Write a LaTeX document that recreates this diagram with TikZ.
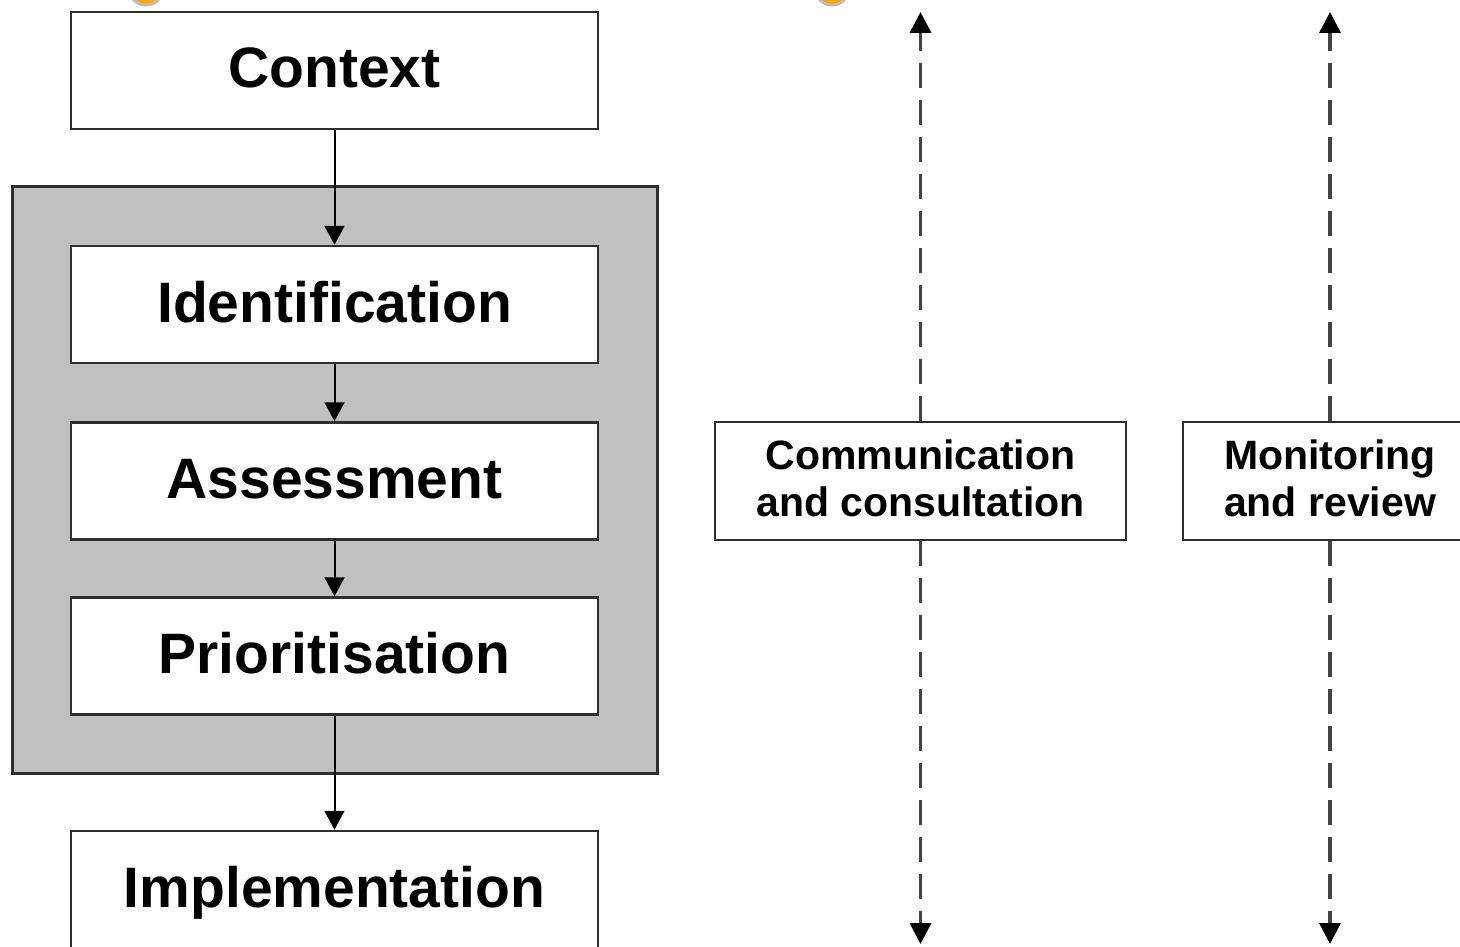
\documentclass[tikz,border=0pt]{standalone}
\usepackage{fontspec}
\setmainfont{Liberation Sans}
\usetikzlibrary{arrows.meta}
\definecolor{panelgray}{HTML}{C0C0C0}
\definecolor{edgegray}{HTML}{2E2E2E}
\definecolor{dashgray}{HTML}{444444}
\definecolor{iconorange}{HTML}{F7A823}
\definecolor{icongray}{HTML}{BDBDBD}
\tikzset{
  stepbox/.style={draw=edgegray, line width=2.5pt, fill=white, minimum width=527pt,
    minimum height=117pt, inner sep=0pt, text height=41pt, text depth=6pt,
    font=\fontsize{57}{60}\selectfont\bfseries},
  sidebox/.style={draw=edgegray, line width=2.5pt, fill=white,
    minimum height=118pt, inner sep=0pt, align=center, text depth=6pt,
    font=\fontsize{41}{47}\selectfont\bfseries},
  flow/.style={line width=2pt, black, -{Triangle[width=20pt,length=19pt]}},
  dashflow/.style={line width=3.5pt, dashgray, dash pattern=on 25pt off 12pt,
    -{Triangle[width=21pt,length=21pt,color=black]}},
  panel/.style={draw=edgegray, line width=3pt, fill=panelgray},
  icon/.style={fill=iconorange, draw=icongray, line width=3pt}
}
\begin{document}
\begin{tikzpicture}[x=1pt,y=-1pt]
\useasboundingbox (0,0) rectangle (1460,947);
\clip (0,0) rectangle (1460,947);
\fill[white] (0,0) rectangle (1460,947);
% cropped icons at top
\draw[icon] (146,-12) circle (17);
\draw[icon] (832,-12) circle (17);
% grey panel
\draw[panel] (12,187) rectangle (657,773);
% left column
\node[stepbox] (context) at (334.5,70.5) {Context};
\node[stepbox] (ident) at (334.5,304.5) {Identification};
\node[stepbox] (assess) at (334.5,481) {Assessment};
\node[stepbox] (prior) at (334.5,656) {Prioritisation};
\node[stepbox] (impl) at (334.5,889.5) {Implementation};
\draw[flow] (context) -- (ident);
\draw[flow] (ident) -- (assess);
\draw[flow] (assess) -- (prior);
\draw[flow] (prior) -- (impl);
% side boxes
\node[sidebox, minimum width=411pt] (comm) at (920.5,481) {Communication\\and consultation};
\node[sidebox, minimum width=294pt] (monit) at (1330,481) {Monitoring\\and review};
\coordinate (commtop) at (920.5,12);
\coordinate (commbot) at (920.5,944);
\coordinate (monittop) at (1330,12);
\coordinate (monitbot) at (1330,944);
\draw[dashflow] (comm.north) -- (commtop);
\draw[dashflow] (comm.south) -- (commbot);
\draw[dashflow] (monit.north) -- (monittop);
\draw[dashflow] (monit.south) -- (monitbot);
\end{tikzpicture}
\end{document}
